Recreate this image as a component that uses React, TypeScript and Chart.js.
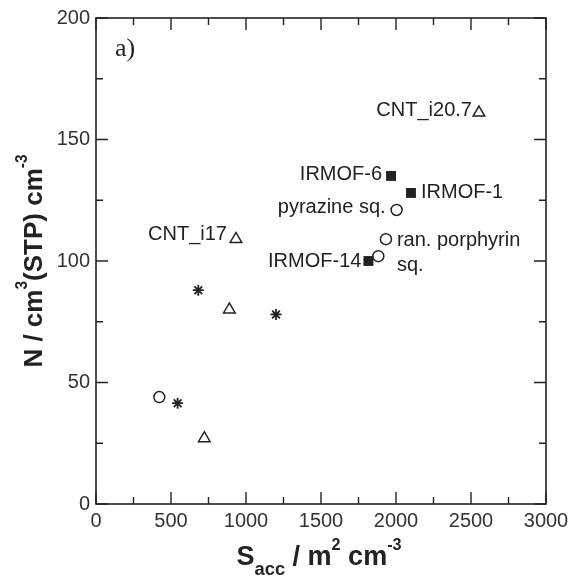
import React, { useEffect, useRef } from "react";
import { Chart, registerables } from "chart.js";

Chart.register(...registerables);

// ---- data ----
const triangleX = [722, 889, 933, 2553];
const triangleY = [27, 80, 109, 161];
const circleX = [422, 1882, 1933, 2004];
const circleY = [44, 102, 109, 121];
const squareX = [1816, 1967, 2100];
const squareY = [100, 135, 128];
const starX = [544, 682, 1200];
const starY = [41.5, 88, 78];

const xTicks = [0, 500, 1000, 1500, 2000, 2500, 3000];
const yTicks = [0, 50, 100, 150, 200];

// annotation texts: [text, dataset index, point index]
const labelTexts = ["CNT_i20.7", "IRMOF-6", "IRMOF-1", "pyrazine sq.", "ran. porphyrin", "sq.", "IRMOF-14", "CNT_i17"];
const labelDataset = [0, 2, 2, 1, 1, 1, 2, 0];
const labelPoint = [3, 1, 2, 3, 2, 2, 0, 2];
// placement (pixels offsets, alignment)
const labelDx = [-7, -9, 10, -11, 11, 11, -7, -9];
const labelDy = [-2, -1, 0, -2, 1, 26, 0, -5];
const labelAlign: CanvasTextAlign[] = ["right", "right", "left", "right", "left", "left", "right", "right"];

const SANS = '"Liberation Sans", Arial, Helvetica, sans-serif';
const SERIF = '"Liberation Serif", "Times New Roman", serif';
const INK = "#222";

type Piece = { t: string; k?: "sup" | "sub" };

function drawRich(ctx: CanvasRenderingContext2D, pieces: Piece[], size: number, cx: number, baseY: number) {
  const fontFor = (p: Piece) => {
    const s = p.k === "sup" ? size * 0.6 : p.k === "sub" ? size * 0.68 : size;
    return `bold ${s}px ${SANS}`;
  };
  let total = 0;
  const widths = pieces.map((p) => {
    ctx.font = fontFor(p);
    const w = ctx.measureText(p.t).width;
    total += w;
    return w;
  });
  let x = cx - total / 2;
  ctx.textAlign = "left";
  ctx.textBaseline = "alphabetic";
  pieces.forEach((p, i) => {
    ctx.font = fontFor(p);
    const dy = p.k === "sup" ? -size * 0.56 : p.k === "sub" ? size * 0.38 : 0;
    ctx.fillText(p.t, x, baseY + dy);
    x += widths[i];
  });
}

const framePlugin = {
  id: "frame",
  afterDraw(chart: any) {
    const { ctx, chartArea: a, scales } = chart;
    const xs = scales.x;
    const ys = scales.y;
    ctx.save();
    ctx.strokeStyle = INK;
    ctx.lineWidth = 1.6;
    ctx.strokeRect(a.left, a.top, a.right - a.left, a.bottom - a.top);
    ctx.lineWidth = 1.4;
    ctx.beginPath();
    for (let v = 0; v <= 3000; v += 250) {
      const px = xs.getPixelForValue(v);
      const len = v % 500 === 0 ? 12 : 7;
      ctx.moveTo(px, a.bottom);
      ctx.lineTo(px, a.bottom - len);
      ctx.moveTo(px, a.top);
      ctx.lineTo(px, a.top + len);
    }
    for (let v = 0; v <= 200; v += 25) {
      const py = ys.getPixelForValue(v);
      const len = v % 50 === 0 ? 12 : 7;
      ctx.moveTo(a.left, py);
      ctx.lineTo(a.left + len, py);
      ctx.moveTo(a.right, py);
      ctx.lineTo(a.right - len, py);
    }
    ctx.stroke();

    // annotations
    ctx.fillStyle = INK;
    ctx.font = `20px ${SANS}`;
    ctx.textBaseline = "middle";
    labelTexts.forEach((t, i) => {
      const el = chart.getDatasetMeta(labelDataset[i]).data[labelPoint[i]];
      ctx.textAlign = labelAlign[i];
      ctx.fillText(t, el.x + labelDx[i], el.y + labelDy[i]);
    });

    // panel label
    ctx.font = `26px ${SERIF}`;
    ctx.textAlign = "left";
    ctx.textBaseline = "alphabetic";
    ctx.fillText("a)", a.left + 19, a.top + 38);

    // axis titles
    const cx = (a.left + a.right) / 2;
    const cy = (a.top + a.bottom) / 2;
    drawRich(ctx, [{ t: "S" }, { t: "acc", k: "sub" }, { t: " / m" }, { t: "2", k: "sup" }, { t: " cm" }, { t: "-3", k: "sup" }], 27, cx - 2, 565);
    ctx.save();
    ctx.translate(42, cy);
    ctx.rotate(-Math.PI / 2);
    drawRich(ctx, [{ t: "N / cm" }, { t: "3", k: "sup" }, { t: "(STP) cm" }, { t: "-3", k: "sup" }], 26, 0, 0);
    ctx.restore();
    ctx.restore();
  },
};

const pts = (xs: number[], ys: number[]) => xs.map((x, i) => ({ x, y: ys[i] }));

export default function App() {
  const ref = useRef<HTMLCanvasElement | null>(null);
  useEffect(() => {
    document.body.style.margin = "0";
    const canvas = ref.current!;
    const tickFont = { size: 20, family: SANS };
    const chart = new Chart(canvas, {
      type: "scatter",
      data: {
        datasets: [
          { label: "triangle", data: pts(triangleX, triangleY), pointStyle: "triangle", pointRadius: 6.7, borderColor: INK, backgroundColor: "rgba(255,255,255,0)", borderWidth: 1.5 },
          { label: "circle", data: pts(circleX, circleY), pointStyle: "circle", pointRadius: 5.5, borderColor: INK, backgroundColor: "rgba(255,255,255,0)", borderWidth: 1.5 },
          { label: "square", data: pts(squareX, squareY), pointStyle: "rect", pointRadius: 7, borderColor: INK, backgroundColor: INK, borderWidth: 0 },
          { label: "star", data: pts(starX, starY), pointStyle: "star", pointRadius: 5.5, borderColor: INK, backgroundColor: INK, borderWidth: 1.8 },
        ],
      },
      options: {
        responsive: false,
        animation: false,
        events: [],
        layout: { padding: { top: 14, right: 35, left: 0, bottom: 0 } },
        plugins: { legend: { display: false }, tooltip: { enabled: false } },
        scales: {
          x: {
            type: "linear",
            min: 0,
            max: 3000,
            afterBuildTicks: (s: any) => { s.ticks = xTicks.map((v) => ({ value: v })); },
            ticks: { font: tickFont, color: "#333", padding: 5, maxRotation: 0, autoSkip: false, callback: (v: any) => String(v) },
            grid: { display: false, drawTicks: false },
            border: { display: false },
            afterFit: (s: any) => { s.height = 73; },
          },
          y: {
            type: "linear",
            min: 0,
            max: 200,
            afterBuildTicks: (s: any) => { s.ticks = yTicks.map((v) => ({ value: v })); },
            ticks: { font: tickFont, color: "#333", padding: 6, autoSkip: false, callback: (v: any) => String(v) },
            grid: { display: false, drawTicks: false },
            border: { display: false },
            afterFit: (s: any) => { s.width = 96; },
          },
        },
      },
      plugins: [framePlugin],
    } as any);
    return () => chart.destroy();
  }, []);
  return (
    <div style={{ width: 581, height: 577, background: "#fff" }}>
      <canvas ref={ref} width={581} height={577} style={{ display: "block" }} />
    </div>
  );
}
